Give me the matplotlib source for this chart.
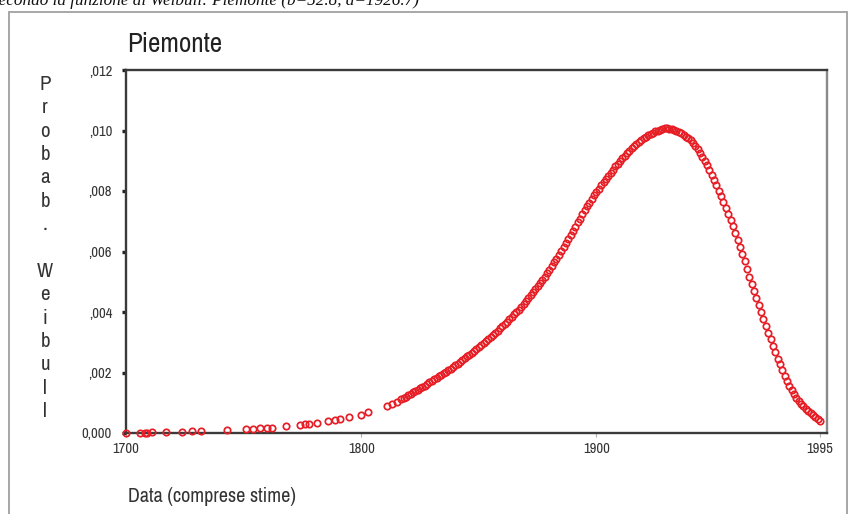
import matplotlib
matplotlib.use("Agg")
import matplotlib.pyplot as plt
from matplotlib import font_manager
from matplotlib.patches import Rectangle

# ---- data -------------------------------------------------------------
# sparse early dates
early_years = [1700, 1706, 1708, 1709, 1711, 1717, 1724, 1728, 1732, 1743,
               1751, 1754, 1757, 1760, 1762, 1768, 1774, 1776, 1778, 1781,
               1786, 1789, 1791, 1795, 1800, 1803, 1811, 1813, 1815]
early_probs = [0.00000, 0.00001, 0.00001, 0.00001, 0.00002, 0.00003, 0.00004,
               0.00005, 0.00006, 0.00009, 0.00012, 0.00014, 0.00015, 0.00017,
               0.00018, 0.00022, 0.00027, 0.00029, 0.00031, 0.00034, 0.00040,
               0.00043, 0.00046, 0.00052, 0.00061, 0.00068, 0.00089, 0.00096,
               0.00104]

# yearly dates 1817-1995
annual_years = list(range(1817, 1996))
annual_probs = [
    0.00112, 0.00116, 0.00120,                                                  # 1817-1819
    0.00125, 0.00129, 0.00134, 0.00138, 0.00143, 0.00148, 0.00152, 0.00157, 0.00162, 0.00167,  # 1820s
    0.00172, 0.00177, 0.00182, 0.00187, 0.00192, 0.00197, 0.00202, 0.00207, 0.00213, 0.00218,  # 1830s
    0.00224, 0.00229, 0.00235, 0.00241, 0.00247, 0.00253, 0.00259, 0.00265, 0.00271, 0.00277,  # 1840s
    0.00284, 0.00290, 0.00297, 0.00303, 0.00310, 0.00317, 0.00324, 0.00331, 0.00338, 0.00346,  # 1850s
    0.00353, 0.00360, 0.00368, 0.00376, 0.00384, 0.00392, 0.00400, 0.00408, 0.00417, 0.00426,  # 1860s
    0.00435, 0.00445, 0.00455, 0.00465, 0.00475, 0.00485, 0.00496, 0.00506, 0.00517, 0.00528,  # 1870s
    0.00540, 0.00552, 0.00564, 0.00576, 0.00589, 0.00602, 0.00615, 0.00628, 0.00642, 0.00655,  # 1880s
    0.00669, 0.00682, 0.00696, 0.00709, 0.00723, 0.00736, 0.00749, 0.00761, 0.00774, 0.00786,  # 1890s
    0.00797, 0.00808, 0.00819, 0.00830, 0.00841, 0.00851, 0.00861, 0.00871, 0.00881, 0.00890,  # 1900s
    0.00899, 0.00908, 0.00917, 0.00925, 0.00933, 0.00941, 0.00948, 0.00955, 0.00962, 0.00968,  # 1910s
    0.00974, 0.00979, 0.00984, 0.00989, 0.00993, 0.00997, 0.01000, 0.01003, 0.01005, 0.01007,  # 1920s
    0.01007, 0.01006, 0.01004, 0.01001, 0.00998, 0.00995, 0.00991, 0.00986, 0.00980, 0.00974,  # 1930s
    0.00967, 0.00959, 0.00950, 0.00939, 0.00927, 0.00914, 0.00900, 0.00885, 0.00869, 0.00853,  # 1940s
    0.00836, 0.00819, 0.00801, 0.00783, 0.00764, 0.00745, 0.00725, 0.00705, 0.00684, 0.00662,  # 1950s
    0.00639, 0.00616, 0.00592, 0.00567, 0.00542, 0.00517, 0.00493, 0.00470, 0.00447, 0.00424,  # 1960s
    0.00401, 0.00378, 0.00355, 0.00332, 0.00310, 0.00288, 0.00267, 0.00246, 0.00227, 0.00208,  # 1970s
    0.00190, 0.00173, 0.00157, 0.00142, 0.00129, 0.00117, 0.00106, 0.00097, 0.00088, 0.00080,  # 1980s
    0.00072, 0.00065, 0.00058, 0.00052, 0.00046, 0.00040,                       # 1990-1995
]

years = early_years + annual_years
probs = early_probs + annual_probs

y_ticks = [0.000, 0.002, 0.004, 0.006, 0.008, 0.010, 0.012]
y_tick_labels = ["0,000", ",002", ",004", ",006", ",008", ",010", ",012"]
x_ticks = [1700, 1800, 1900, 1995]
x_tick_labels = ["1700", "1800", "1900", "1995"]

caption = "secondo la funzione di Weibull: Piemonte (b=52.8, a=1926.7)"
title = "Piemonte"
y_label = "Probab. Weibull"
x_label = "Data (comprese stime)"

# ---- fonts ------------------------------------------------------------
fonts = font_manager.fontManager.ttflist
names = {f.name for f in fonts}
narrow_names = sorted(n for n in names if "Narrow" in n or "Condensed" in n)
if narrow_names:
    NARROW = dict(family=[narrow_names[0], "DejaVu Sans"])
elif any(f.name == "DejaVu Sans" and f.stretch in ("condensed", 500, "semi-condensed")
         for f in fonts):
    NARROW = dict(family=["DejaVu Sans"], stretch="condensed")
else:
    NARROW = dict(family=["Liberation Sans", "DejaVu Sans"])
SERIF = ["Liberation Serif", "DejaVu Serif"]

RED = "#e61e26"
W, H = 849, 514

fig = plt.figure(figsize=(W / 100, H / 100), dpi=100)
fig.patch.set_facecolor("white")

# outer frame of the chart panel
fig.add_artist(Rectangle((9 / W, -0.05), (847 - 9) / W, 1.05 - 12 / H,
                         transform=fig.transFigure, fill=False,
                         ec="#a0a0a0", lw=1.3))

# caption line running off the top edge
fig.text(-8 / W, 1 - 5 / H, caption, family=SERIF, style="italic",
         fontsize=12.3, color="#111111", ha="left", va="baseline")

ax = fig.add_axes([126 / W, 1 - 433 / H, 701 / W, 363 / H])
ax.plot(years, probs, linestyle="none", marker="o", ms=4.6,
        mfc="none", mec=RED, mew=1.25, clip_on=False, zorder=3)

ax.set_xlim(1700, 1998)
ax.set_ylim(0, 0.012)

ax.set_yticks(y_ticks)
ax.set_yticklabels(y_tick_labels, fontsize=10.5, color="#333333", **NARROW)
ax.set_xticks(x_ticks)
ax.set_xticklabels(x_tick_labels, fontsize=10.5, color="#333333", **NARROW)
ax.tick_params(axis="y", direction="out", length=3, width=2.4,
               color="#222222", pad=7)
ax.tick_params(axis="x", direction="out", length=3, width=0.8,
               color="#b0b0b0", pad=3.5)

for side in ("left", "bottom", "top"):
    ax.spines[side].set_color("#3a3a3a")
    ax.spines[side].set_linewidth(1.7)
ax.spines["right"].set_color("#8a8a8a")
ax.spines["right"].set_linewidth(1.7)

# title above the plot area
fig.text(127 / W, 1 - 52 / H, title, fontsize=19.5, color="#222222",
         ha="left", va="baseline", **NARROW)

# stacked vertical axis label
fig.text(45 / W, 1 - 248 / H, "\n".join(y_label), fontsize=15,
         color="#333333", ha="center", va="center",
         multialignment="center", linespacing=1.29, **NARROW)

fig.text(128 / W, 1 - 496 / H, x_label, fontsize=14.5, color="#333333",
         ha="left", va="center", **NARROW)

fig.savefig("out.png", dpi=100, facecolor="white")
